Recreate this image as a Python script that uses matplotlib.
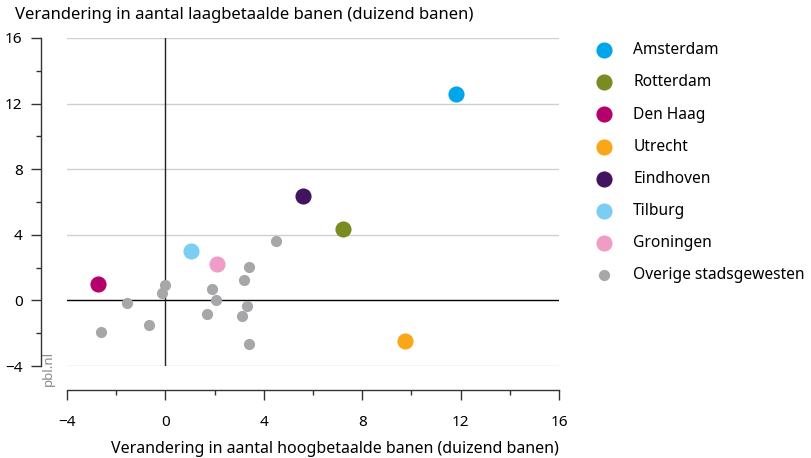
import matplotlib.pyplot as plt
from matplotlib.ticker import MultipleLocator

plt.rcParams['font.family'] = ['Noto Sans', 'DejaVu Sans']

# grote stadsgewesten
steden = ["Amsterdam", "Rotterdam", "Den Haag", "Utrecht", "Eindhoven", "Tilburg", "Groningen"]
hoog = [11.83, 7.20, -2.74, 9.76, 5.58, 1.06, 2.11]
laag = [12.56, 4.36, 1.00, -2.45, 6.36, 3.02, 2.25]
kleuren = ["#00A6E9", "#7A8B22", "#B4006B", "#FAA61A", "#42145F", "#7BCDF1", "#F09CC5"]

# overige stadsgewesten
overig_hoog = [4.51, 3.38, 3.18, 0.00, 1.89, -0.14, 2.04, -1.58, 3.30, 1.68, 3.13, -0.67, -2.60, 3.38]
overig_laag = [3.65, 2.05, 1.26, 0.93, 0.67, 0.43, 0.04, -0.14, -0.36, -0.83, -0.95, -1.53, -1.94, -2.65]

fig = plt.figure(figsize=(8.11, 4.58), dpi=100)
ax = fig.add_axes([67/811, 1-366/458, (559-67)/811, (366-38)/458])

ax.set_xlim(-4, 16)
ax.set_ylim(-4, 16)

for yv in [-4, 4, 8, 12, 16]:
    ax.axhline(yv, color="#d0d0d0", lw=1, zorder=0)
ax.axhline(0, color="black", lw=1, zorder=1)
ax.axvline(0, color="#222222", lw=1, zorder=1)

for naam, xv, yv, c in zip(steden, hoog, laag, kleuren):
    ax.scatter(xv, yv, s=135, color=c, label=naam, zorder=3, linewidths=0)
ax.scatter(overig_hoog, overig_laag, s=65, color="#A7A7A9", label="Overige stadsgewesten",
           zorder=2, linewidths=0)

ax.spines["top"].set_visible(False)
ax.spines["right"].set_visible(False)
ax.spines["left"].set_position(("outward", 19))
ax.spines["bottom"].set_position(("outward", 17))
for s in ["left", "bottom"]:
    ax.spines[s].set_color("#333333")
    ax.spines[s].set_linewidth(1)

ax.xaxis.set_major_locator(MultipleLocator(4))
ax.xaxis.set_minor_locator(MultipleLocator(2))
ax.yaxis.set_major_locator(MultipleLocator(4))
ax.yaxis.set_minor_locator(MultipleLocator(2))
ax.tick_params(which="major", length=7, width=1, color="#333333", labelsize=11)
ax.tick_params(which="minor", length=3.5, width=1, color="#333333")
ax.tick_params(axis="x", pad=11)
ax.tick_params(axis="y", pad=6)

ax.set_xlabel("Verandering in aantal hoogbetaalde banen (duizend banen)", fontsize=11.5, labelpad=9)
ax.xaxis.set_label_coords((335-67)/492, -0.23)
fig.text(15/811, 1-15/458, "Verandering in aantal laagbetaalde banen (duizend banen)",
         fontsize=12, ha="left", va="center")
fig.text(48/811, 1-368/458, "pbl.nl", rotation=90, color="#888888", fontsize=9.5,
         ha="center", va="center")

leg = ax.legend(loc="upper left", bbox_to_anchor=(582/811, 1-36/458), bbox_transform=fig.transFigure,
                frameon=False, fontsize=11.2, labelspacing=1.04, handletextpad=0.9,
                scatterpoints=1, borderaxespad=0)

fig.savefig("out.png", dpi=100)
